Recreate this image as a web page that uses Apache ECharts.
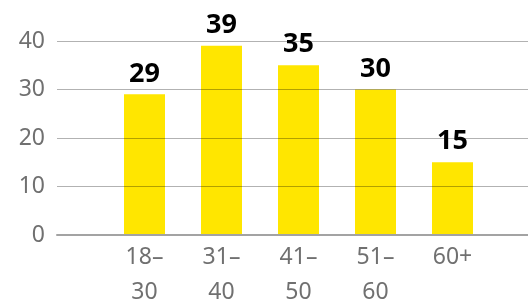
<!DOCTYPE html>
<html>
<head>
<meta charset="utf-8">
<script src="https://cdn.jsdelivr.net/npm/echarts@6/dist/echarts.min.js"></script>
<style>
html,body{margin:0;padding:0;background:#fff;}
#chart{width:528px;height:305px;}
</style>
</head>
<body>
<div id="chart"></div>
<script>
const categories = ['18–\n30', '31–\n40', '41–\n50', '51–\n60', '60+'];
const values = [29, 39, 35, 30, 15];
const yTicks = [0, 10, 20, 30, 40];

const FONT = '"Noto Sans", "Open Sans", sans-serif';
const chart = echarts.init(document.getElementById('chart'), null, {renderer: 'canvas'});
chart.setOption({
  animation: false,
  backgroundColor: '#ffffff',
  grid: [
    {left: 57, right: 0, top: 41, height: 194, containLabel: false, outerBoundsMode: 'none'},
    {left: 106, right: 37, top: 41, height: 194, containLabel: false, outerBoundsMode: 'none'}
  ],
  xAxis: [
    {
      type: 'category', gridIndex: 0, data: [''], z: 4,
      axisLine: {show: true, lineStyle: {color: '#a3a3a3', width: 2}},
      axisTick: {show: false}, axisLabel: {show: false}, splitLine: {show: false}
    },
    {
      type: 'category', gridIndex: 1, data: categories,
      axisLine: {show: false}, axisTick: {show: false},
      axisLabel: {
        color: '#707070', fontFamily: FONT, fontSize: 23, lineHeight: 35,
        margin: 5, interval: 0
      }
    }
  ],
  yAxis: [
    {
      type: 'value', gridIndex: 0, min: yTicks[0], max: yTicks[yTicks.length - 1], interval: 10, z: 3,
      axisLine: {show: false}, axisTick: {show: false},
      axisLabel: {color: '#707070', fontFamily: FONT, fontSize: 23, margin: 12},
      splitLine: {show: true, lineStyle: {color: 'rgba(0,0,0,0.3)', width: 1}}
    },
    {
      type: 'value', gridIndex: 1, min: yTicks[0], max: yTicks[yTicks.length - 1], show: false,
      splitLine: {show: false}
    }
  ],
  series: [
    {
      type: 'bar', xAxisIndex: 1, yAxisIndex: 1, data: values, barWidth: 41,
      itemStyle: {color: '#ffe600'},
      label: {
        show: true, position: 'top', distance: 7,
        color: '#000', fontFamily: FONT, fontWeight: 'bold', fontSize: 27
      }
    }
  ]
});
</script>
</body>
</html>
